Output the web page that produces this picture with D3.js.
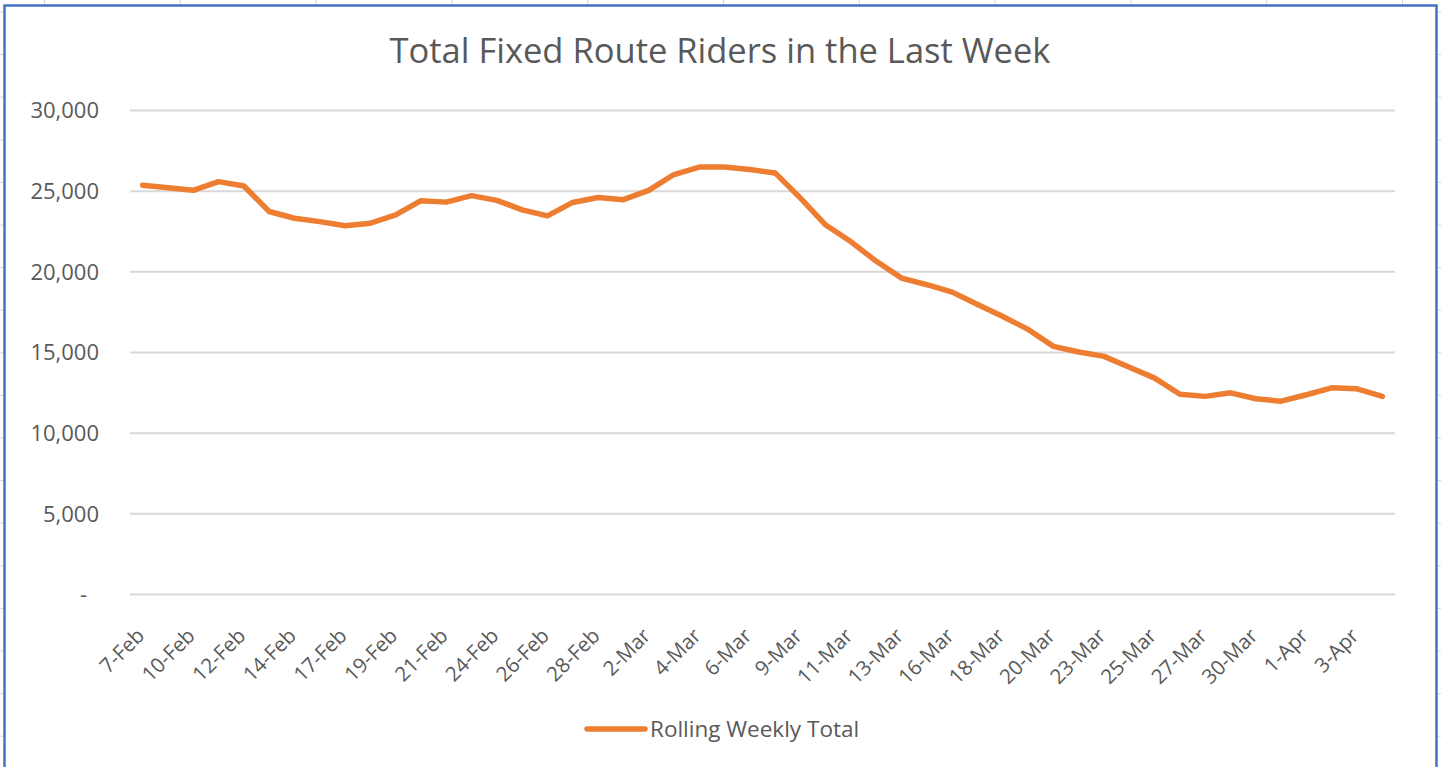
<!DOCTYPE html>
<html>
<head>
<meta charset="utf-8">
<script src="https://cdn.jsdelivr.net/npm/d3@7"></script>
<style>
  body { margin: 0; background: #fff; }
  svg { display: block; font-family: "Open Sans", sans-serif; }
  .grid .domain { display: none; }
  .grid line { stroke: #d9d9d9; stroke-width: 2; }
  .grid text, .x-axis text { fill: #595959; }
  .x-axis .domain, .x-axis line { display: none; }
</style>
</head>
<body>
<div id="chart"></div>
<script>
// categories (Mon-Sat), values
const dates = [
  '7-Feb','8-Feb','10-Feb','11-Feb','12-Feb','13-Feb','14-Feb','15-Feb','17-Feb','18-Feb',
  '19-Feb','20-Feb','21-Feb','22-Feb','24-Feb','25-Feb','26-Feb','27-Feb','28-Feb','29-Feb',
  '2-Mar','3-Mar','4-Mar','5-Mar','6-Mar','7-Mar','9-Mar','10-Mar','11-Mar','12-Mar',
  '13-Mar','14-Mar','16-Mar','17-Mar','18-Mar','19-Mar','20-Mar','21-Mar','23-Mar','24-Mar',
  '25-Mar','26-Mar','27-Mar','28-Mar','30-Mar','31-Mar','1-Apr','2-Apr','3-Apr','4-Apr'
];
const riders = [
  25330, 25180, 25020, 25560, 25290, 23710, 23290, 23080, 22830, 22980,
  23500, 24380, 24290, 24690, 24400, 23810, 23440, 24270, 24580, 24440,
  25020, 26000, 26460, 26460, 26310, 26100, 24540, 22870, 21830, 20620,
  19580, 19170, 18710, 17950, 17200, 16400, 15350, 15000, 14730, 14060,
  13380, 12380, 12250, 12470, 12100, 11950, 12350, 12780, 12720, 12250
];
const yTicks = [0, 5000, 10000, 15000, 20000, 25000, 30000];
const xTickLabels = dates.filter((d, i) => i % 2 === 0);
const seriesName = 'Rolling Weekly Total';
const title = 'Total Fixed Route Riders in the Last Week';

const W = 1441, H = 767;
const plot = { left: 130, right: 1395, top: 110, bottom: 594 };
const orange = '#ed7d31';
const font = '"Open Sans", sans-serif';

const svg = d3.select('#chart').append('svg')
  .attr('width', W)
  .attr('height', H);

// spreadsheet cell lines showing round the chart object
const sheet = svg.append('g').attr('stroke', '#d6d6d6').attr('stroke-width', 1);
d3.range(44.5, W, 135.8).forEach(x => {
  sheet.append('line').attr('x1', x).attr('x2', x).attr('y1', 0).attr('y2', H);
});
d3.range(12, H, 42.6).forEach(y => {
  sheet.append('line').attr('x1', 0).attr('x2', W).attr('y1', y).attr('y2', y);
});

// chart box
svg.append('rect')
  .attr('x', 4.5)
  .attr('y', 5.5)
  .attr('width', 1432)
  .attr('height', 820)
  .attr('fill', '#fff')
  .attr('stroke', '#4472c4')
  .attr('stroke-width', 2.5);

svg.append('text')
  .attr('x', 720)
  .attr('y', 63)
  .attr('text-anchor', 'middle')
  .attr('fill', '#595959')
  .attr('font-size', 34.5)
  .text(title);

const x = d3.scaleBand()
  .domain(dates)
  .range([plot.left, plot.right]);

const y = d3.scaleLinear()
  .domain([0, 30000])
  .range([plot.bottom, plot.top]);

const grid = svg.append('g')
  .attr('class', 'grid')
  .attr('transform', `translate(${plot.left},0)`)
  .call(d3.axisLeft(y)
    .tickValues(yTicks)
    .tickSize(-(plot.right - plot.left))
    .tickPadding(31)
    .tickFormat(d => d === 0 ? '-' : d3.format(',')(d)))
  .attr('font-family', font)
  .attr('font-size', 22);
grid.selectAll('text')
  .attr('dy', '0.35em')
  .attr('dx', d => d === 0 ? -12 : 0);

const xAxis = svg.append('g')
  .attr('class', 'x-axis')
  .attr('transform', `translate(0,${plot.bottom})`)
  .call(d3.axisBottom(x).tickValues(xTickLabels).tickSize(0))
  .attr('font-family', font)
  .attr('font-size', 20.5);
xAxis.selectAll('text')
  .attr('text-anchor', 'end')
  .attr('dy', 0)
  .attr('y', 0)
  .attr('transform', 'translate(3,43) rotate(-45)');

const line = d3.line()
  .x((d, i) => x(dates[i]) + x.bandwidth() / 2)
  .y(d => y(d));

svg.append('path')
  .datum(riders)
  .attr('d', line)
  .attr('fill', 'none')
  .attr('stroke', orange)
  .attr('stroke-width', 5.5)
  .attr('stroke-linejoin', 'round')
  .attr('stroke-linecap', 'round');

// legend
const legend = svg.append('g').attr('transform', 'translate(587,729)');
legend.append('line')
  .attr('x1', 0).attr('x2', 58)
  .attr('stroke', orange)
  .attr('stroke-width', 5.5)
  .attr('stroke-linecap', 'round');
legend.append('text')
  .attr('x', 63)
  .attr('dy', '0.35em')
  .attr('fill', '#595959')
  .attr('font-size', 22.5)
  .text(seriesName);
</script>
</body>
</html>
